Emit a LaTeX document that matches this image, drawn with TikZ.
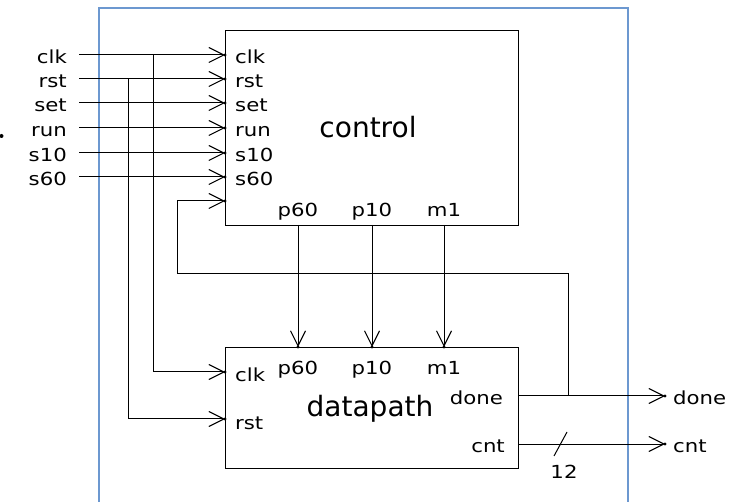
\documentclass[tikz,border=0pt]{standalone}
\usepackage{fontspec}
\setmainfont{DejaVu Sans}
\newfontfamily\smallf[FakeStretch=1.18]{DejaVu Sans}
\usetikzlibrary{arrows.meta,calc}
\definecolor{frameblue}{RGB}{108,152,208}
\begin{document}
\begin{tikzpicture}[x=1pt,y=-1pt,
  wire/.style={line width=1pt,black},
  arr/.style={wire,-{Straight Barb[length=15pt,width=15pt,line width=1.1pt]}},
  blk/.style={draw,line width=1pt,anchor=north west,inner sep=0pt},
  lbl/.style={font=\smallf\fontsize{18}{18}\selectfont,inner sep=0pt},
  big/.style={font=\fontsize{28}{28}\selectfont,inner sep=0pt},
]
\useasboundingbox (0,0) rectangle (731,502);
\fill[white] (0,0) rectangle (731,502);
\draw[line width=1.5pt,color=frameblue] (99,502) -- (99,8) -- (628,8) -- (628,502);
\fill (1.5,136) circle (2pt);

% blocks
\node[blk,minimum width=293pt,minimum height=195pt] (ctl) at (225,30) {};
\node[blk,minimum width=293pt,minimum height=121pt] (dp) at (225,347) {};
\node[big,anchor=base] (ctltxt) at (368,138) {control};
\node[big,anchor=base] (dptxt) at (370,417) {datapath};

% inputs to control
\foreach \n/\yy in {clk/55,rst/79,set/103,run/128,s10/153,s60/177}{
  \coordinate (i-\n) at (79,\yy);
  \coordinate (e-\n) at (225,\yy);
  \node[lbl,anchor=base east] (L-\n) at (67,\yy+9) {\n};
  \node[lbl,anchor=base west] (C-\n) at (235,\yy+9) {\n};
  \draw[arr] (i-\n) -- (e-\n);
  \fill (e-\n) circle (1.6pt);
}

% branches to datapath
\coordinate (bclk) at (153,55);
\coordinate (brst) at (128,79);
\coordinate (dclk) at (225,372);
\coordinate (drst) at (225,419);
\draw[arr] (bclk) |- (dclk);
\draw[arr] (brst) |- (drst);
\fill (dclk) circle (1.6pt);
\fill (drst) circle (1.6pt);
\node[lbl,anchor=base west] (D-clk) at (235,382) {clk};
\node[lbl,anchor=base west] (D-rst) at (235,429) {rst};

% control -> datapath
\foreach \n/\xx in {p60/298,p10/372,m1/444}{
  \coordinate (o-\n) at (\xx,225);
  \coordinate (t-\n) at (\xx,347);
  \draw[arr] (o-\n) -- (t-\n);
  \fill (t-\n) circle (1.6pt);
  \node[lbl,anchor=base] (CO-\n) at (\xx,217) {\n};
  \node[lbl,anchor=base] (DI-\n) at (\xx,375) {\n};
}

% outputs
\coordinate (odone) at (518,396);
\coordinate (tdone) at (665,396);
\coordinate (ocnt) at (518,444);
\coordinate (tcnt) at (665,444);
\draw[arr] (odone) -- (tdone);
\draw[arr] (ocnt) -- (tcnt);
\fill (tdone) circle (1.6pt);
\fill (tcnt) circle (1.6pt);
\node[lbl,anchor=base east] (DO-done) at (503,405) {done};
\node[lbl,anchor=base east] (DO-cnt) at (505,453) {cnt};
\node[lbl,anchor=base west] (X-done) at (673,405) {done};
\node[lbl,anchor=base west] (X-cnt) at (673,453) {cnt};
\draw[wire] (554,456) -- (567,432);
\node[lbl,anchor=base] (w12) at (564,478) {12};

% feedback
\coordinate (fbJ) at (568,396);
\coordinate (fbA) at (568,274);
\coordinate (fbB) at (177,274);
\coordinate (fbC) at (177,201);
\coordinate (fbE) at (225,201);
\draw[arr] (fbJ) -- (fbA) -- (fbB) -- (fbC) -- (fbE);
\fill (fbE) circle (1.6pt);
\end{tikzpicture}
\end{document}
